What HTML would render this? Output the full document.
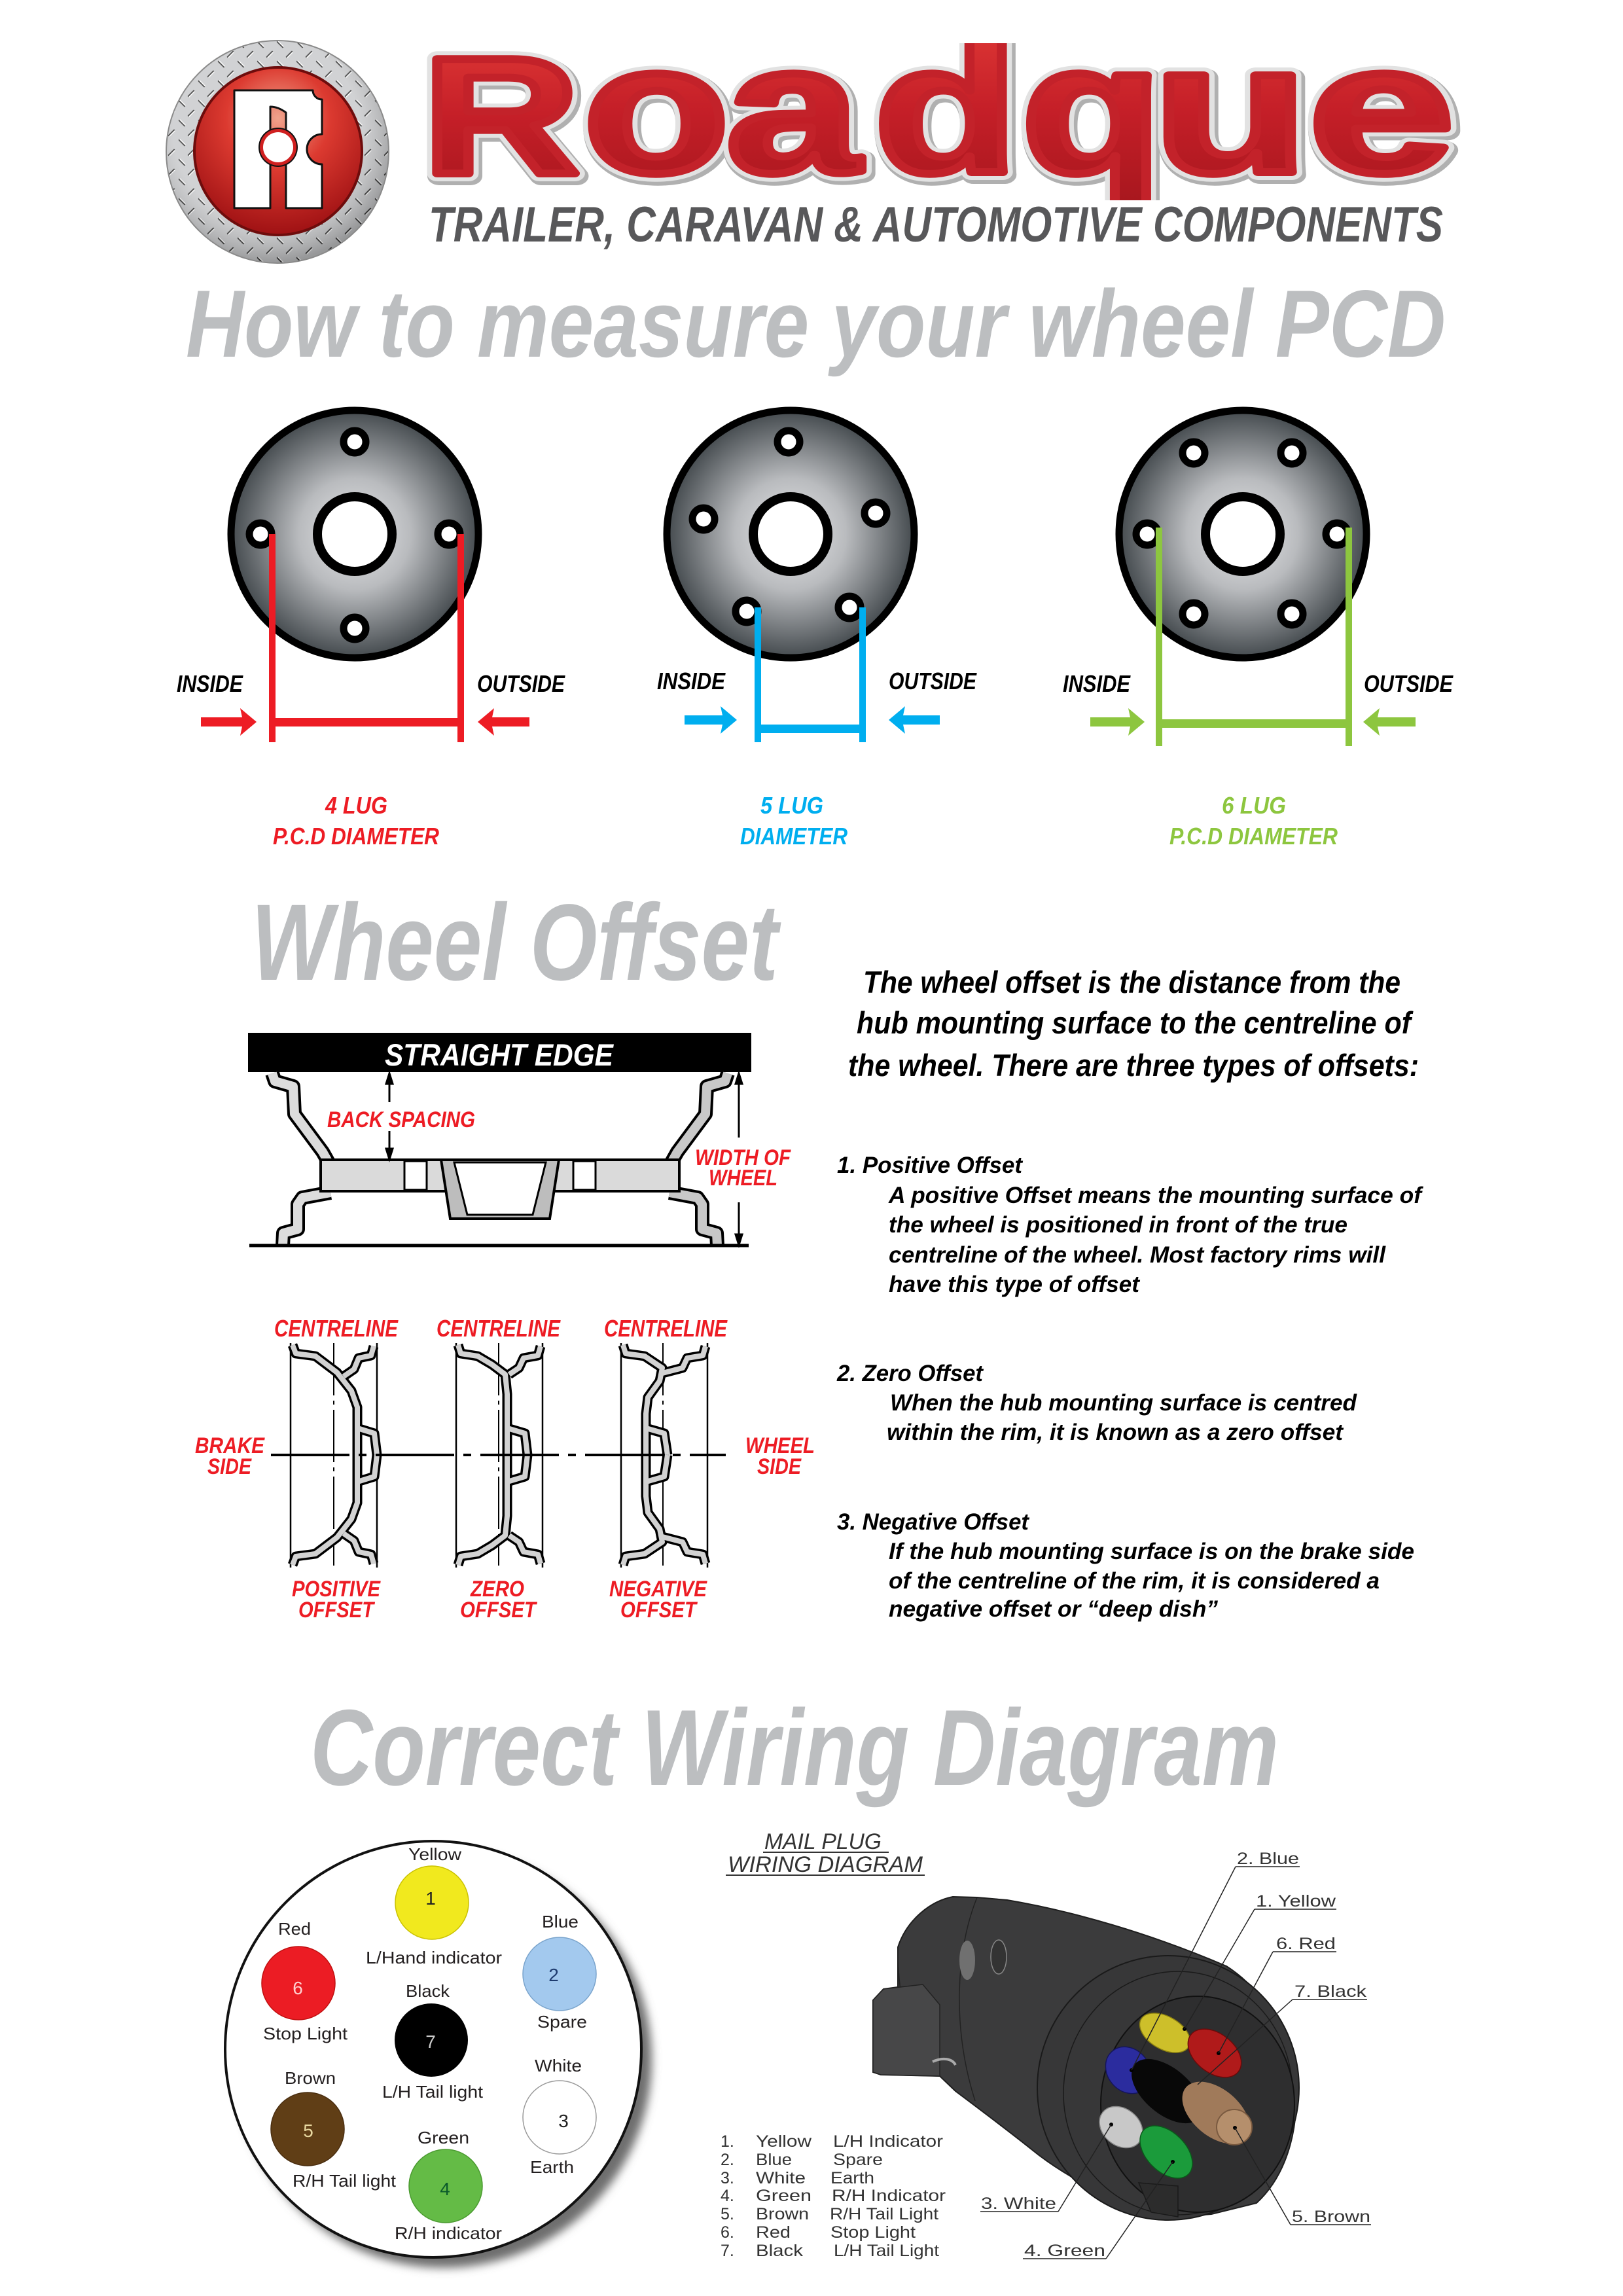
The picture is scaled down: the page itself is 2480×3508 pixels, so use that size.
<!DOCTYPE html>
<html><head><meta charset="utf-8">
<style>
html,body{margin:0;padding:0;background:#fff;}
svg{display:block;}
text{font-family:"Liberation Sans",Arial,sans-serif;}
.bi{font-weight:bold;font-style:italic;}
</style></head><body>
<svg width="2480" height="3508" viewBox="0 0 2480 3508" xmlns="http://www.w3.org/2000/svg">
<defs>
 <radialGradient id="disc" cx="0.5" cy="0.5" r="0.5">
  <stop offset="0" stop-color="#e6e7e9"/>
  <stop offset="0.45" stop-color="#b9bbbe"/>
  <stop offset="1" stop-color="#444a4e"/>
 </radialGradient>
 <linearGradient id="redtxt" x1="0" y1="0" x2="0" y2="1">
  <stop offset="0" stop-color="#e23b37"/>
  <stop offset="0.5" stop-color="#c51f28"/>
  <stop offset="1" stop-color="#a5161d"/>
 </linearGradient>
 <radialGradient id="redball" cx="0.5" cy="0.3" r="0.7">
  <stop offset="0" stop-color="#f1a38c"/>
  <stop offset="0.45" stop-color="#dc3a30"/>
  <stop offset="1" stop-color="#a01214"/>
 </radialGradient>
 <radialGradient id="ringshade" cx="0.45" cy="0.4" r="0.6">
  <stop offset="0.7" stop-color="#ffffff" stop-opacity="0.15"/>
  <stop offset="1" stop-color="#000000" stop-opacity="0.25"/>
 </radialGradient>
 <pattern id="plate" width="30" height="30" patternUnits="userSpaceOnUse">
  <rect width="30" height="30" fill="#c9cacc"/>
  <path d="M4,4 L12,12" stroke="#3a3a3a" stroke-width="2.5" stroke-linecap="round"/>
  <path d="M5,3 L13,11" stroke="#fff" stroke-width="1.5" stroke-linecap="round"/>
  <path d="M26,19 L18,27" stroke="#3a3a3a" stroke-width="2.5" stroke-linecap="round"/>
  <path d="M27,20 L19,28" stroke="#fff" stroke-width="1.5" stroke-linecap="round"/>
 </pattern>
 <clipPath id="wmclip"><rect x="600" y="66" width="1700" height="240"/></clipPath>
 <filter id="blur" x="-20%" y="-20%" width="140%" height="140%"><feGaussianBlur stdDeviation="7"/></filter>
</defs>
<rect width="2480" height="3508" fill="#fff"/>

<!-- ================= LOGO ================= -->
<circle cx="424" cy="232" r="170" fill="url(#plate)"/>
<circle cx="424" cy="232" r="170" fill="url(#ringshade)" stroke="#8a8a8a" stroke-width="2"/>
<circle cx="425" cy="231" r="130" fill="#6e0c0c"/>
<circle cx="425" cy="231" r="126" fill="url(#redball)"/>
<path d="M358,138 L478,138 A14,14 0 0 0 492,152 L492,205 A23,23 0 0 0 492,251 L492,318 L437,318 L437,172 Q425,163 413,163 L413,318 L358,318 Z" fill="#fff" stroke="#111" stroke-width="3" stroke-linejoin="round"/>
<circle cx="425" cy="225" r="30" fill="#111"/>
<circle cx="425" cy="225" r="28" fill="#d02020"/>
<circle cx="425" cy="225" r="23" fill="#fff"/>

<!-- Roadque wordmark -->
<g font-weight="bold" stroke-linejoin="round" clip-path="url(#wmclip)">
 <g fill="#b0b0b0" stroke="#b0b0b0" stroke-width="28" transform="translate(3,4)">
  <text x="646" y="265" font-size="254" textLength="239" lengthAdjust="spacingAndGlyphs">R</text>
  <text x="892" y="263" font-size="280" textLength="222" lengthAdjust="spacingAndGlyphs">o</text>
  <text x="1110" y="263" font-size="280" textLength="204" lengthAdjust="spacingAndGlyphs">a</text>
  <text x="1336" y="263" font-size="280" textLength="220" lengthAdjust="spacingAndGlyphs">d</text>
  <text x="1561" y="263" font-size="280" textLength="215" lengthAdjust="spacingAndGlyphs">q</text>
  <text x="1762" y="263" font-size="280" textLength="237" lengthAdjust="spacingAndGlyphs">u</text>
  <text x="2000" y="263" font-size="280" textLength="222" lengthAdjust="spacingAndGlyphs">e</text>
 </g>
 <g fill="#e6e6e6" stroke="#e2e2e2" stroke-width="24">
  <text x="646" y="265" font-size="254" textLength="239" lengthAdjust="spacingAndGlyphs">R</text>
  <text x="892" y="263" font-size="280" textLength="222" lengthAdjust="spacingAndGlyphs">o</text>
  <text x="1110" y="263" font-size="280" textLength="204" lengthAdjust="spacingAndGlyphs">a</text>
  <text x="1336" y="263" font-size="280" textLength="220" lengthAdjust="spacingAndGlyphs">d</text>
  <text x="1561" y="263" font-size="280" textLength="215" lengthAdjust="spacingAndGlyphs">q</text>
  <text x="1762" y="263" font-size="280" textLength="237" lengthAdjust="spacingAndGlyphs">u</text>
  <text x="2000" y="263" font-size="280" textLength="222" lengthAdjust="spacingAndGlyphs">e</text>
 </g>
 <g fill="url(#redtxt)" stroke="#c3222a" stroke-width="12">
  <text x="646" y="265" font-size="254" textLength="239" lengthAdjust="spacingAndGlyphs">R</text>
  <text x="892" y="263" font-size="280" textLength="222" lengthAdjust="spacingAndGlyphs">o</text>
  <text x="1110" y="263" font-size="280" textLength="204" lengthAdjust="spacingAndGlyphs">a</text>
  <text x="1336" y="263" font-size="280" textLength="220" lengthAdjust="spacingAndGlyphs">d</text>
  <text x="1561" y="263" font-size="280" textLength="215" lengthAdjust="spacingAndGlyphs">q</text>
  <text x="1762" y="263" font-size="280" textLength="237" lengthAdjust="spacingAndGlyphs">u</text>
  <text x="2000" y="263" font-size="280" textLength="222" lengthAdjust="spacingAndGlyphs">e</text>
 </g>
</g>

<text class="bi" x="655" y="369" font-size="76" fill="#58585a" textLength="1550" lengthAdjust="spacingAndGlyphs">TRAILER, CARAVAN &amp; AUTOMOTIVE COMPONENTS</text>

<text class="bi" x="284" y="545" font-size="146" fill="#bcbec0" textLength="1925" lengthAdjust="spacingAndGlyphs">How to measure your wheel PCD</text>

<!-- ================= PCD WHEELS ================= -->
<g stroke="#000">
 <circle cx="542" cy="816" r="189" fill="url(#disc)" stroke-width="11"/>
 <circle cx="542" cy="816" r="57" fill="#fff" stroke-width="14"/>
 <circle cx="542" cy="675" r="17" fill="#fff" stroke-width="11"/>
 <circle cx="542" cy="960" r="17" fill="#fff" stroke-width="11"/>
 <circle cx="398" cy="816" r="17" fill="#fff" stroke-width="11"/>
 <circle cx="686" cy="816" r="17" fill="#fff" stroke-width="11"/>
</g>
<g fill="#ed1c24">
 <rect x="411" y="816" width="10" height="318"/>
 <rect x="699" y="816" width="10" height="318"/>
 <rect x="411" y="1097" width="298" height="13"/>
 <path d="M307,1096 L370,1096 L367,1082 L392,1103 L367,1124 L370,1110 L307,1110 Z"/>
 <path d="M809,1096 L752,1096 L755,1082 L730,1103 L755,1124 L752,1110 L809,1110 Z"/>
</g>
<g stroke="#000">
 <circle cx="1208" cy="816" r="189" fill="url(#disc)" stroke-width="11"/>
 <circle cx="1208" cy="816" r="57" fill="#fff" stroke-width="14"/>
 <circle cx="1205" cy="675" r="17" fill="#fff" stroke-width="11"/>
 <circle cx="1075" cy="793" r="17" fill="#fff" stroke-width="11"/>
 <circle cx="1338" cy="784" r="17" fill="#fff" stroke-width="11"/>
 <circle cx="1141" cy="934" r="17" fill="#fff" stroke-width="11"/>
 <circle cx="1298" cy="928" r="17" fill="#fff" stroke-width="11"/>
</g>
<g fill="#00aeef">
 <rect x="1153" y="928" width="10" height="206"/>
 <rect x="1313" y="928" width="10" height="206"/>
 <rect x="1153" y="1107" width="170" height="13"/>
 <path d="M1046,1093 L1104,1093 L1101,1079 L1126,1100 L1101,1121 L1104,1107 L1046,1107 Z"/>
 <path d="M1436,1093 L1380,1093 L1383,1079 L1358,1100 L1383,1121 L1380,1107 L1436,1107 Z"/>
</g>
<g stroke="#000">
 <circle cx="1899" cy="816" r="189" fill="url(#disc)" stroke-width="11"/>
 <circle cx="1899" cy="816" r="57" fill="#fff" stroke-width="14"/>
 <circle cx="1824" cy="692" r="17" fill="#fff" stroke-width="11"/>
 <circle cx="1974" cy="692" r="17" fill="#fff" stroke-width="11"/>
 <circle cx="1753" cy="816" r="17" fill="#fff" stroke-width="11"/>
 <circle cx="2043" cy="816" r="17" fill="#fff" stroke-width="11"/>
 <circle cx="1824" cy="938" r="17" fill="#fff" stroke-width="11"/>
 <circle cx="1974" cy="938" r="17" fill="#fff" stroke-width="11"/>
</g>
<g fill="#8dc63f">
 <rect x="1766" y="806" width="10" height="334"/>
 <rect x="2056" y="806" width="10" height="334"/>
 <rect x="1766" y="1099" width="300" height="13"/>
 <path d="M1666,1096 L1727,1096 L1724,1082 L1749,1103 L1724,1124 L1727,1110 L1666,1110 Z"/>
 <path d="M2163,1096 L2105,1096 L2108,1082 L2083,1103 L2108,1124 L2105,1110 L2163,1110 Z"/>
</g>

<g class="bi" font-size="36" fill="#000">
 <text x="270" y="1057" textLength="101" lengthAdjust="spacingAndGlyphs">INSIDE</text>
 <text x="729" y="1057" textLength="134" lengthAdjust="spacingAndGlyphs">OUTSIDE</text>
 <text x="1004" y="1053" textLength="104" lengthAdjust="spacingAndGlyphs">INSIDE</text>
 <text x="1358" y="1053" textLength="134" lengthAdjust="spacingAndGlyphs">OUTSIDE</text>
 <text x="1624" y="1057" textLength="103" lengthAdjust="spacingAndGlyphs">INSIDE</text>
 <text x="2084" y="1057" textLength="136" lengthAdjust="spacingAndGlyphs">OUTSIDE</text>
</g>

<g class="bi" font-size="36">
 <text x="497" y="1243" fill="#ed1c24" textLength="95" lengthAdjust="spacingAndGlyphs">4 LUG</text>
 <text x="417" y="1290" fill="#ed1c24" textLength="254" lengthAdjust="spacingAndGlyphs">P.C.D DIAMETER</text>
 <text x="1162" y="1243" fill="#00aeef" textLength="96" lengthAdjust="spacingAndGlyphs">5 LUG</text>
 <text x="1131" y="1290" fill="#00aeef" textLength="164" lengthAdjust="spacingAndGlyphs">DIAMETER</text>
 <text x="1867" y="1243" fill="#8dc63f" textLength="98" lengthAdjust="spacingAndGlyphs">6 LUG</text>
 <text x="1787" y="1290" fill="#8dc63f" textLength="257" lengthAdjust="spacingAndGlyphs">P.C.D DIAMETER</text>
</g>

<!-- ================= WHEEL OFFSET ================= -->
<text class="bi" x="384" y="1497" font-size="166" fill="#bcbec0" textLength="805" lengthAdjust="spacingAndGlyphs">Wheel Offset</text>

<rect x="379" y="1578" width="769" height="60" fill="#000"/>
<text x="588" y="1628" font-size="47" font-weight="bold" font-style="italic" fill="#fff" textLength="349" lengthAdjust="spacingAndGlyphs">STRAIGHT EDGE</text>

<g fill="none" stroke-linejoin="round" stroke-linecap="butt">
 <g>
  <path d="M416,1640 L420,1652 L448,1660 L450,1702 L493,1760 L502,1776" stroke="#000" stroke-width="22"/>
  <path d="M505,1822 L462,1830 L455,1840 L455,1878 L433,1884 L432,1903" stroke="#000" stroke-width="22"/>
  <path d="M416,1640 L420,1652 L448,1660 L450,1702 L493,1760 L502,1776" stroke="#dcdcdc" stroke-width="14"/>
  <path d="M505,1822 L462,1830 L455,1840 L455,1878 L433,1884 L432,1903" stroke="#dcdcdc" stroke-width="14"/>
 </g>
 <g transform="translate(1528,0) scale(-1,1)">
  <path d="M416,1640 L420,1652 L448,1660 L450,1702 L493,1760 L502,1776" stroke="#000" stroke-width="22"/>
  <path d="M505,1822 L462,1830 L455,1840 L455,1878 L433,1884 L432,1903" stroke="#000" stroke-width="22"/>
  <path d="M416,1640 L420,1652 L448,1660 L450,1702 L493,1760 L502,1776" stroke="#c8c8c8" stroke-width="14"/>
  <path d="M505,1822 L462,1830 L455,1840 L455,1878 L433,1884 L432,1903" stroke="#c8c8c8" stroke-width="14"/>
 </g>
</g>
<rect x="490" y="1772" width="548" height="48" fill="#dadada" stroke="#000" stroke-width="4"/>
<rect x="618" y="1774" width="34" height="44" fill="#fff" stroke="#000" stroke-width="3"/>
<rect x="876" y="1774" width="34" height="44" fill="#fff" stroke="#000" stroke-width="3"/>
<polygon points="674,1772 854,1772 840,1862 688,1862" fill="#bdbdbd" stroke="#000" stroke-width="4"/>
<polygon points="694,1776 834,1776 814,1856 714,1856" fill="#fff" stroke="#000" stroke-width="3"/>
<line x1="381" y1="1903" x2="1144" y2="1903" stroke="#000" stroke-width="5"/>

<g stroke="#000" stroke-width="3" fill="#000">
 <line x1="595" y1="1650" x2="595" y2="1684"/>
 <path d="M595,1640 L590,1656 L600,1656 Z"/>
 <line x1="595" y1="1728" x2="595" y2="1760"/>
 <path d="M595,1771 L590,1755 L600,1755 Z"/>
 <line x1="1129" y1="1650" x2="1129" y2="1738"/>
 <path d="M1129,1640 L1124,1656 L1134,1656 Z"/>
 <line x1="1129" y1="1837" x2="1129" y2="1892"/>
 <path d="M1129,1902 L1124,1886 L1134,1886 Z"/>
</g>
<g class="bi" font-size="34" fill="#ed1c24">
 <text x="500" y="1722" textLength="226" lengthAdjust="spacingAndGlyphs">BACK SPACING</text>
 <text x="1062" y="1780" textLength="146" lengthAdjust="spacingAndGlyphs">WIDTH OF</text>
 <text x="1083" y="1811" textLength="105" lengthAdjust="spacingAndGlyphs">WHEEL</text>
</g>

<g class="bi" font-size="36" fill="#ed1c24">
 <text x="419" y="2042" textLength="189" lengthAdjust="spacingAndGlyphs">CENTRELINE</text>
 <text x="667" y="2042" textLength="189" lengthAdjust="spacingAndGlyphs">CENTRELINE</text>
 <text x="923" y="2042" textLength="188" lengthAdjust="spacingAndGlyphs">CENTRELINE</text>
</g>
<g stroke="#000" stroke-width="2.5">
 <line x1="444" y1="2052" x2="444" y2="2395"/>
 <line x1="576" y1="2052" x2="576" y2="2395"/>
 <line x1="697" y1="2052" x2="697" y2="2395"/>
 <line x1="829" y1="2052" x2="829" y2="2395"/>
 <line x1="949" y1="2052" x2="949" y2="2395"/>
 <line x1="1081" y1="2052" x2="1081" y2="2395"/>
</g>
<g stroke="#000" stroke-width="2" stroke-dasharray="80 8 6 8">
 <line x1="510" y1="2052" x2="510" y2="2392"/>
 <line x1="762" y1="2052" x2="762" y2="2392"/>
 <line x1="1013" y1="2052" x2="1013" y2="2392"/>
</g>
<g fill="none" stroke-linejoin="round">
 <g>
  <path d="M447,2055 L452,2068 L482,2072 L515,2097 L537,2125 L546,2150 L546,2223" stroke="#000" stroke-width="15"/>
  <path d="M546,2182 L572,2190 L576,2223" stroke="#000" stroke-width="15"/>
  <path d="M571,2057 L567,2071 L548,2075 L541,2092 L525,2103" stroke="#000" stroke-width="15"/>
  <path d="M447,2055 L452,2068 L482,2072 L515,2097 L537,2125 L546,2150 L546,2223" stroke="#d2d2d2" stroke-width="8"/>
  <path d="M546,2182 L572,2190 L576,2223" stroke="#d2d2d2" stroke-width="8"/>
  <path d="M571,2057 L567,2071 L548,2075 L541,2092 L525,2103" stroke="#d2d2d2" stroke-width="8"/>
 </g>
 <g transform="translate(0,4446) scale(1,-1)">
  <path d="M447,2055 L452,2068 L482,2072 L515,2097 L537,2125 L546,2150 L546,2223" stroke="#000" stroke-width="15"/>
  <path d="M546,2182 L572,2190 L576,2223" stroke="#000" stroke-width="15"/>
  <path d="M571,2057 L567,2071 L548,2075 L541,2092 L525,2103" stroke="#000" stroke-width="15"/>
  <path d="M447,2055 L452,2068 L482,2072 L515,2097 L537,2125 L546,2150 L546,2223" stroke="#d2d2d2" stroke-width="8"/>
  <path d="M546,2182 L572,2190 L576,2223" stroke="#d2d2d2" stroke-width="8"/>
  <path d="M571,2057 L567,2071 L548,2075 L541,2092 L525,2103" stroke="#d2d2d2" stroke-width="8"/>
 </g>
 <g>
  <path d="M700,2055 L704,2068 L730,2072 L752,2085 L772,2100 L775,2130 L775,2223" stroke="#000" stroke-width="15"/>
  <path d="M775,2182 L802,2190 L806,2223" stroke="#000" stroke-width="15"/>
  <path d="M826,2057 L822,2071 L800,2075 L793,2090 L778,2100" stroke="#000" stroke-width="15"/>
  <path d="M700,2055 L704,2068 L730,2072 L752,2085 L772,2100 L775,2130 L775,2223" stroke="#d2d2d2" stroke-width="8"/>
  <path d="M775,2182 L802,2190 L806,2223" stroke="#d2d2d2" stroke-width="8"/>
  <path d="M826,2057 L822,2071 L800,2075 L793,2090 L778,2100" stroke="#d2d2d2" stroke-width="8"/>
 </g>
 <g transform="translate(0,4446) scale(1,-1)">
  <path d="M700,2055 L704,2068 L730,2072 L752,2085 L772,2100 L775,2130 L775,2223" stroke="#000" stroke-width="15"/>
  <path d="M775,2182 L802,2190 L806,2223" stroke="#000" stroke-width="15"/>
  <path d="M826,2057 L822,2071 L800,2075 L793,2090 L778,2100" stroke="#000" stroke-width="15"/>
  <path d="M700,2055 L704,2068 L730,2072 L752,2085 L772,2100 L775,2130 L775,2223" stroke="#d2d2d2" stroke-width="8"/>
  <path d="M775,2182 L802,2190 L806,2223" stroke="#d2d2d2" stroke-width="8"/>
  <path d="M826,2057 L822,2071 L800,2075 L793,2090 L778,2100" stroke="#d2d2d2" stroke-width="8"/>
 </g>
 <g>
  <path d="M952,2055 L956,2068 L985,2072 L1012,2090 L1008,2110 L990,2135 L987,2160 L987,2223" stroke="#000" stroke-width="15"/>
  <path d="M987,2182 L1015,2190 L1020,2223" stroke="#000" stroke-width="15"/>
  <path d="M1078,2057 L1074,2071 L1050,2075 L1043,2090 L1012,2098" stroke="#000" stroke-width="15"/>
  <path d="M952,2055 L956,2068 L985,2072 L1012,2090 L1008,2110 L990,2135 L987,2160 L987,2223" stroke="#d2d2d2" stroke-width="8"/>
  <path d="M987,2182 L1015,2190 L1020,2223" stroke="#d2d2d2" stroke-width="8"/>
  <path d="M1078,2057 L1074,2071 L1050,2075 L1043,2090 L1012,2098" stroke="#d2d2d2" stroke-width="8"/>
 </g>
 <g transform="translate(0,4446) scale(1,-1)">
  <path d="M952,2055 L956,2068 L985,2072 L1012,2090 L1008,2110 L990,2135 L987,2160 L987,2223" stroke="#000" stroke-width="15"/>
  <path d="M987,2182 L1015,2190 L1020,2223" stroke="#000" stroke-width="15"/>
  <path d="M1078,2057 L1074,2071 L1050,2075 L1043,2090 L1012,2098" stroke="#000" stroke-width="15"/>
  <path d="M952,2055 L956,2068 L985,2072 L1012,2090 L1008,2110 L990,2135 L987,2160 L987,2223" stroke="#d2d2d2" stroke-width="8"/>
  <path d="M987,2182 L1015,2190 L1020,2223" stroke="#d2d2d2" stroke-width="8"/>
  <path d="M1078,2057 L1074,2071 L1050,2075 L1043,2090 L1012,2098" stroke="#d2d2d2" stroke-width="8"/>
 </g>
</g>
<line x1="414" y1="2223" x2="1109" y2="2223" stroke="#000" stroke-width="4" stroke-dasharray="120 14 12 14"/>

<g class="bi" font-size="34" fill="#ed1c24">
 <text x="298" y="2220" textLength="106" lengthAdjust="spacingAndGlyphs">BRAKE</text>
 <text x="317" y="2252" textLength="67" lengthAdjust="spacingAndGlyphs">SIDE</text>
 <text x="1139" y="2220" textLength="106" lengthAdjust="spacingAndGlyphs">WHEEL</text>
 <text x="1157" y="2252" textLength="67" lengthAdjust="spacingAndGlyphs">SIDE</text>
 <text x="446" y="2439" textLength="135" lengthAdjust="spacingAndGlyphs">POSITIVE</text>
 <text x="456" y="2471" textLength="115" lengthAdjust="spacingAndGlyphs">OFFSET</text>
 <text x="719" y="2439" textLength="82" lengthAdjust="spacingAndGlyphs">ZERO</text>
 <text x="703" y="2471" textLength="116" lengthAdjust="spacingAndGlyphs">OFFSET</text>
 <text x="931" y="2439" textLength="149" lengthAdjust="spacingAndGlyphs">NEGATIVE</text>
 <text x="948" y="2471" textLength="116" lengthAdjust="spacingAndGlyphs">OFFSET</text>
</g>

<g class="bi" font-size="47" fill="#000">
 <text x="1319" y="1517" textLength="821" lengthAdjust="spacingAndGlyphs">The wheel offset is the distance from the</text>
 <text x="1309" y="1579" textLength="847" lengthAdjust="spacingAndGlyphs">hub mounting surface to the centreline of</text>
 <text x="1296" y="1644" textLength="872" lengthAdjust="spacingAndGlyphs">the wheel. There are three types of offsets:</text>
</g>
<g class="bi" font-size="35" fill="#000">
 <text x="1279" y="1792" textLength="283" lengthAdjust="spacingAndGlyphs">1. Positive Offset</text>
 <text x="1358" y="1838" textLength="814" lengthAdjust="spacingAndGlyphs">A positive Offset means the mounting surface of</text>
 <text x="1358" y="1883" textLength="701" lengthAdjust="spacingAndGlyphs">the wheel is positioned in front of the true</text>
 <text x="1358" y="1929" textLength="759" lengthAdjust="spacingAndGlyphs">centreline of the wheel. Most factory rims will</text>
 <text x="1358" y="1974" textLength="383" lengthAdjust="spacingAndGlyphs">have this type of offset</text>

 <text x="1279" y="2110" textLength="223" lengthAdjust="spacingAndGlyphs">2. Zero Offset</text>
 <text x="1360" y="2155" textLength="713" lengthAdjust="spacingAndGlyphs">When the hub mounting surface is centred</text>
 <text x="1355" y="2200" textLength="697" lengthAdjust="spacingAndGlyphs">within the rim, it is known as a zero offset</text>

 <text x="1279" y="2337" textLength="293" lengthAdjust="spacingAndGlyphs">3. Negative Offset</text>
 <text x="1358" y="2382" textLength="803" lengthAdjust="spacingAndGlyphs">If the hub mounting surface is on the brake side</text>
 <text x="1358" y="2427" textLength="750" lengthAdjust="spacingAndGlyphs">of the centreline of the rim, it is considered a</text>
 <text x="1358" y="2470" textLength="503" lengthAdjust="spacingAndGlyphs">negative offset or “deep dish”</text>
</g>

<!-- ================= WIRING ================= -->
<text class="bi" x="474" y="2727" font-size="165" fill="#bcbec0" textLength="1480" lengthAdjust="spacingAndGlyphs">Correct Wiring Diagram</text>

<circle cx="678" cy="3147" r="318" fill="#6e6e6e" filter="url(#blur)"/>
<circle cx="662" cy="3131" r="318" fill="#fff" stroke="#111" stroke-width="4"/>

<circle cx="660" cy="2907" r="56" fill="#f1e91e" stroke="#c9c100" stroke-width="1.5"/>
<circle cx="855" cy="3016" r="56" fill="#a3c9ee" stroke="#7aa4cc" stroke-width="1.5"/>
<circle cx="855" cy="3235" r="56" fill="#fff" stroke="#9a9a9a" stroke-width="1.5"/>
<circle cx="681" cy="3340" r="56" fill="#64bb46" stroke="#4a9a30" stroke-width="1.5"/>
<circle cx="470" cy="3253" r="56" fill="#603e16" stroke="#4a2e10" stroke-width="1.5"/>
<circle cx="456" cy="3030" r="56" fill="#ec1c24" stroke="#c01010" stroke-width="1.5"/>
<circle cx="659" cy="3117" r="56" fill="#000"/>

<g font-size="28" text-anchor="middle">
 <text x="658" y="2910" fill="#222">1</text>
 <text x="846" y="3027" fill="#1d3a6e">2</text>
 <text x="861" y="3250" fill="#222">3</text>
 <text x="680" y="3354" fill="#0a5a2a">4</text>
 <text x="471" y="3265" fill="#e8d8a0">5</text>
 <text x="455" y="3047" fill="#ffd0d0">6</text>
 <text x="658" y="3129" fill="#cccccc">7</text>
</g>

<g font-size="26" fill="#231f20">
 <text x="624" y="2842" textLength="81" lengthAdjust="spacingAndGlyphs">Yellow</text>
 <text x="559" y="3000" textLength="208" lengthAdjust="spacingAndGlyphs">L/Hand indicator</text>
 <text x="425" y="2956" textLength="50" lengthAdjust="spacingAndGlyphs">Red</text>
 <text x="402" y="3116" textLength="129" lengthAdjust="spacingAndGlyphs">Stop Light</text>
 <text x="620" y="3051" textLength="67" lengthAdjust="spacingAndGlyphs">Black</text>
 <text x="584" y="3205" textLength="154" lengthAdjust="spacingAndGlyphs">L/H Tail light</text>
 <text x="828" y="2945" textLength="56" lengthAdjust="spacingAndGlyphs">Blue</text>
 <text x="821" y="3098" textLength="76" lengthAdjust="spacingAndGlyphs">Spare</text>
 <text x="817" y="3165" textLength="72" lengthAdjust="spacingAndGlyphs">White</text>
 <text x="810" y="3320" textLength="67" lengthAdjust="spacingAndGlyphs">Earth</text>
 <text x="435" y="3184" textLength="78" lengthAdjust="spacingAndGlyphs">Brown</text>
 <text x="447" y="3341" textLength="158" lengthAdjust="spacingAndGlyphs">R/H Tail light</text>
 <text x="638" y="3275" textLength="79" lengthAdjust="spacingAndGlyphs">Green</text>
 <text x="603" y="3421" textLength="164" lengthAdjust="spacingAndGlyphs">R/H indicator</text>
</g>

<g font-size="34" font-style="italic" fill="#333">
 <text x="1168" y="2825" textLength="179" lengthAdjust="spacingAndGlyphs">MAIL PLUG</text>
 <text x="1112" y="2860" textLength="298" lengthAdjust="spacingAndGlyphs">WIRING DIAGRAM</text>
</g>
<line x1="1166" y1="2830" x2="1358" y2="2830" stroke="#333" stroke-width="2"/>
<line x1="1109" y1="2865" x2="1413" y2="2865" stroke="#333" stroke-width="2"/>

<!-- plug body -->
<path d="M1334,3056 L1350,3039 L1372,3036 L1372,2975 C1385,2935 1420,2905 1456,2898 L1493,2899 L1539,2903 C1640,2920 1760,2955 1874,3004 C1930,3040 1965,3100 1978,3170 C1988,3240 1970,3320 1920,3366 L1851,3383 L1800,3387 L1759,3380 C1700,3365 1620,3320 1575,3283 C1540,3255 1500,3225 1460,3195 L1436,3172 L1346,3170 L1334,3166 Z" fill="#3b3b3c" stroke="#1e1e1e" stroke-width="2"/>
<path d="M1372,2975 C1372,3050 1385,3130 1436,3172" fill="none" stroke="#222" stroke-width="1.5"/>
<path d="M1493,2899 C1460,2980 1455,3100 1490,3210" fill="none" stroke="#222" stroke-width="1.5"/>
<ellipse cx="1478" cy="2995" rx="12" ry="30" fill="#707070"/>
<ellipse cx="1526" cy="2990" rx="12" ry="26" fill="#333" stroke="#888" stroke-width="1.5"/>
<path d="M1334,3056 L1350,3039 L1410,3032 L1436,3063 L1436,3172 L1346,3170 L1334,3166 Z" fill="#474748" stroke="#222" stroke-width="1.5"/>
<path d="M1425,3150 C1440,3143 1455,3145 1460,3155" fill="none" stroke="#aaa" stroke-width="4"/>
<ellipse cx="1785" cy="3190" rx="200" ry="202" fill="#373738" stroke="#1a1a1a" stroke-width="2"/>
<ellipse cx="1800" cy="3198" rx="175" ry="186" fill="none" stroke="#1a1a1a" stroke-width="1.5"/>
<ellipse cx="1830" cy="3215" rx="148" ry="165" fill="#2e2e2f" stroke="#111" stroke-width="2"/>
<path d="M1740,3335 L1800,3340 L1800,3387 L1759,3380 Z" fill="#2c2c2c" stroke="#1a1a1a" stroke-width="1.5"/>

<ellipse cx="1780" cy="3106" rx="42" ry="25" transform="rotate(30 1780 3106)" fill="#cdbf2a" stroke="#8a7f10" stroke-width="1.5"/>
<ellipse cx="1856" cy="3137" rx="46" ry="30" transform="rotate(38 1856 3137)" fill="#b01a1a" stroke="#6a0a0a" stroke-width="1.5"/>
<ellipse cx="1724" cy="3163" rx="38" ry="32" transform="rotate(50 1724 3163)" fill="#2b2c9e" stroke="#15155a" stroke-width="1.5"/>
<ellipse cx="1783" cy="3195" rx="64" ry="35" transform="rotate(40 1783 3195)" fill="#080808"/>
<ellipse cx="1858" cy="3228" rx="60" ry="36" transform="rotate(40 1858 3228)" fill="#a07a5a"/>
<circle cx="1886" cy="3250" r="27" fill="#b58f6c" stroke="#7a5a40" stroke-width="2"/>
<ellipse cx="1713" cy="3250" rx="36" ry="28" transform="rotate(40 1713 3250)" fill="#c8c8c8" stroke="#888" stroke-width="1.5"/>
<ellipse cx="1782" cy="3288" rx="48" ry="30" transform="rotate(45 1782 3288)" fill="#1b9b3b" stroke="#0a5a1a" stroke-width="1.5"/>
<g fill="#000">
 <circle cx="1729" cy="3163" r="3"/><circle cx="1810" cy="3100" r="3"/>
 <circle cx="1862" cy="3137" r="3"/><circle cx="1887" cy="3251" r="3"/>
 <circle cx="1698" cy="3246" r="3"/><circle cx="1792" cy="3303" r="3"/>
</g>

<g stroke="#222" stroke-width="1.5" fill="none">
 <line x1="1888" y1="2852" x2="1729" y2="3163"/>
 <line x1="1917" y1="2917" x2="1810" y2="3100"/>
 <line x1="1945" y1="2982" x2="1862" y2="3137"/>
 <line x1="1975" y1="3055" x2="1830" y2="3185"/>
 <line x1="1972" y1="3399" x2="1887" y2="3251"/>
 <line x1="1617" y1="3379" x2="1698" y2="3246"/>
 <line x1="1690" y1="3451" x2="1792" y2="3303"/>
 <line x1="1888" y1="2852" x2="1986" y2="2852"/>
 <line x1="1917" y1="2917" x2="2042" y2="2917"/>
 <line x1="1945" y1="2982" x2="2042" y2="2982"/>
 <line x1="1975" y1="3055" x2="2089" y2="3055"/>
 <line x1="1972" y1="3399" x2="2095" y2="3399"/>
 <line x1="1498" y1="3379" x2="1617" y2="3379"/>
 <line x1="1563" y1="3451" x2="1690" y2="3451"/>
</g>
<g font-size="25" fill="#333">
 <text x="1890" y="2848" textLength="95" lengthAdjust="spacingAndGlyphs">2.  Blue</text>
 <text x="1919" y="2913" textLength="122" lengthAdjust="spacingAndGlyphs">1.  Yellow</text>
 <text x="1950" y="2978" textLength="91" lengthAdjust="spacingAndGlyphs">6.  Red</text>
 <text x="1978" y="3051" textLength="110" lengthAdjust="spacingAndGlyphs">7.  Black</text>
 <text x="1974" y="3395" textLength="120" lengthAdjust="spacingAndGlyphs">5.  Brown</text>
 <text x="1499" y="3375" textLength="115" lengthAdjust="spacingAndGlyphs">3.  White</text>
 <text x="1565" y="3447" textLength="124" lengthAdjust="spacingAndGlyphs">4.  Green</text>
</g>

<g font-size="25" fill="#333">
 <text x="1101" y="3280">1.</text>
 <text x="1101" y="3308">2.</text>
 <text x="1101" y="3336">3.</text>
 <text x="1101" y="3363">4.</text>
 <text x="1101" y="3391">5.</text>
 <text x="1101" y="3419">6.</text>
 <text x="1101" y="3447">7.</text>
 <text x="1155" y="3280" textLength="85" lengthAdjust="spacingAndGlyphs">Yellow</text>
 <text x="1155" y="3308" textLength="55" lengthAdjust="spacingAndGlyphs">Blue</text>
 <text x="1155" y="3336" textLength="76" lengthAdjust="spacingAndGlyphs">White</text>
 <text x="1155" y="3363" textLength="85" lengthAdjust="spacingAndGlyphs">Green</text>
 <text x="1155" y="3391" textLength="81" lengthAdjust="spacingAndGlyphs">Brown</text>
 <text x="1155" y="3419" textLength="53" lengthAdjust="spacingAndGlyphs">Red</text>
 <text x="1155" y="3447" textLength="72" lengthAdjust="spacingAndGlyphs">Black</text>
 <text x="1273" y="3280" textLength="168" lengthAdjust="spacingAndGlyphs">L/H Indicator</text>
 <text x="1273" y="3308" textLength="76" lengthAdjust="spacingAndGlyphs">Spare</text>
 <text x="1269" y="3336" textLength="67" lengthAdjust="spacingAndGlyphs">Earth</text>
 <text x="1271" y="3363" textLength="174" lengthAdjust="spacingAndGlyphs">R/H Indicator</text>
 <text x="1268" y="3391" textLength="166" lengthAdjust="spacingAndGlyphs">R/H Tail Light</text>
 <text x="1269" y="3419" textLength="130" lengthAdjust="spacingAndGlyphs">Stop Light</text>
 <text x="1274" y="3447" textLength="161" lengthAdjust="spacingAndGlyphs">L/H Tail Light</text>
</g>
</svg>
</body></html>
